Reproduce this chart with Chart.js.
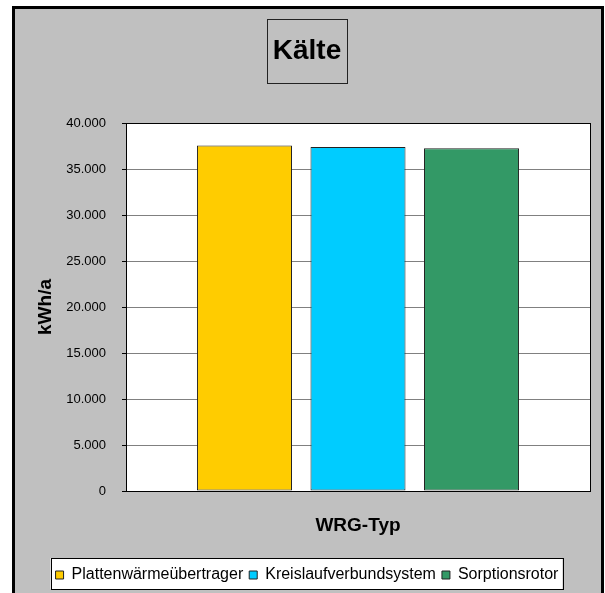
<!DOCTYPE html>
<html lang="de">
<head>
<meta charset="utf-8">
<title>Kälte</title>
<script src="https://cdn.jsdelivr.net/npm/chart.js@4.4.0/dist/chart.umd.min.js"></script>
<style>
  html, body { margin: 0; padding: 0; background: #fff; }
  canvas { display: block; }
</style>
</head>
<body>
<canvas id="myChart" width="605" height="593"></canvas>
<script>
// energy demand for cooling per heat recovery type
const categories = [''];
const seriesNames = ['Plattenwärmeübertrager', 'Kreislaufverbundsystem', 'Sorptionsrotor'];
const seriesValues = [37550, 37400, 37250];
const seriesColors = ['#FFCC00', '#00CCFF', '#339966'];
const yTicks = [0, 5000, 10000, 15000, 20000, 25000, 30000, 35000, 40000];

Chart.defaults.font.family = "'Liberation Sans', Arial, sans-serif";
Chart.defaults.color = '#000';

// german thousands separator: 35000 -> 35.000
const fmt = v => String(v).replace(/\B(?=(\d{3})+(?!\d))/g, '.');

const framePlugin = {
  id: 'frame',
  beforeDraw(chart) {
    const c = chart.ctx;
    const a = chart.chartArea;
    c.save();
    c.fillStyle = '#fff';
    c.fillRect(0, 0, chart.width, chart.height);
    c.fillStyle = '#C0C0C0';
    c.fillRect(12, 6, 592, chart.height);
    c.strokeStyle = '#000';
    c.lineWidth = 3;
    c.strokeRect(13.5, 7.5, 589, chart.height + 10);
    c.fillStyle = '#fff';
    c.fillRect(a.left, a.top, a.right - a.left, a.bottom - a.top);
    c.restore();
  },
  afterDraw(chart) {
    const c = chart.ctx;
    const a = chart.chartArea;
    c.save();
    c.strokeStyle = '#000';
    c.lineWidth = 1;
    c.strokeRect(Math.round(a.left) + 0.5, Math.round(a.top) + 0.5, Math.round(a.right - a.left), Math.round(a.bottom - a.top));
    // box round the title
    const tb = chart.titleBlock;
    const cx = Math.round((tb.left + tb.right) / 2);
    c.strokeStyle = '#222';
    c.strokeRect(cx - 40 + 0.5, 19.5, 80, 64);
    // box round the legend
    const hb = chart.legend.legendHitBoxes;
    if (hb && hb.length) {
      const l = Math.min(...hb.map(h => h.left)) - 5;
      const r = Math.max(...hb.map(h => h.left + h.width)) + 4;
      c.strokeStyle = '#000';
      c.fillStyle = '#fff';
      c.fillRect(l, 558, r - l, 31);
      c.strokeRect(Math.round(l) + 0.5, 558.5, Math.round(r - l), 31);
      chart.legend.draw();
    }
    c.restore();
  }
};

const ctx = document.getElementById('myChart').getContext('2d');
const myChart = new Chart(ctx, {
  type: 'bar',
  data: {
    labels: categories,
    datasets: seriesNames.map((name, i) => ({
      label: name,
      data: [seriesValues[i]],
      backgroundColor: seriesColors[i],
      borderColor: '#222',
      borderWidth: 1,
      borderSkipped: false,
      categoryPercentage: 0.734,
      barPercentage: 0.837
    }))
  },
  options: {
    responsive: false,
    animation: false,
    layout: { padding: { left: 24, right: 15, top: 0, bottom: 0 } },
    plugins: {
      title: {
        display: true,
        text: 'Kälte',
        font: { size: 28, weight: 'bold' },
        padding: { top: 34, bottom: 55.4 }
      },
      legend: {
        position: 'bottom',
        labels: {
          boxWidth: 8,
          boxHeight: 8,
          padding: 6,
          font: { size: 16 },
          color: '#000'
        }
      },
      tooltip: { enabled: false }
    },
    scales: {
      x: {
        grid: { display: false },
        border: { display: true, color: '#000' },
        ticks: { display: false },
        title: {
          display: true,
          text: 'WRG-Typ',
          font: { size: 19, weight: 'bold' },
          padding: { top: 0, bottom: 24 }
        },
        afterFit(scale) {
          const lh = scale.chart.legend ? scale.chart.legend.height : 31.2;
          scale.height = 593 - 491 - lh;
        }
      },
      y: {
        min: 0,
        max: 40000,
        afterBuildTicks(scale) {
          scale.ticks = yTicks.map(v => ({ value: v }));
        },
        ticks: {
          callback: v => fmt(v),
          font: { size: 13 },
          padding: 16,
          color: '#000'
        },
        grid: {
          color: '#808080',
          tickColor: '#000',
          tickLength: 4
        },
        border: { display: true, color: '#000' },
        title: {
          display: true,
          text: 'kWh/a',
          font: { size: 19, weight: 'bold' },
          padding: { top: 10, bottom: 0 }
        },
        afterFit(scale) {
          scale.width = 126 - 24;
        }
      }
    }
  },
  plugins: [framePlugin]
});
</script>
</body>
</html>
